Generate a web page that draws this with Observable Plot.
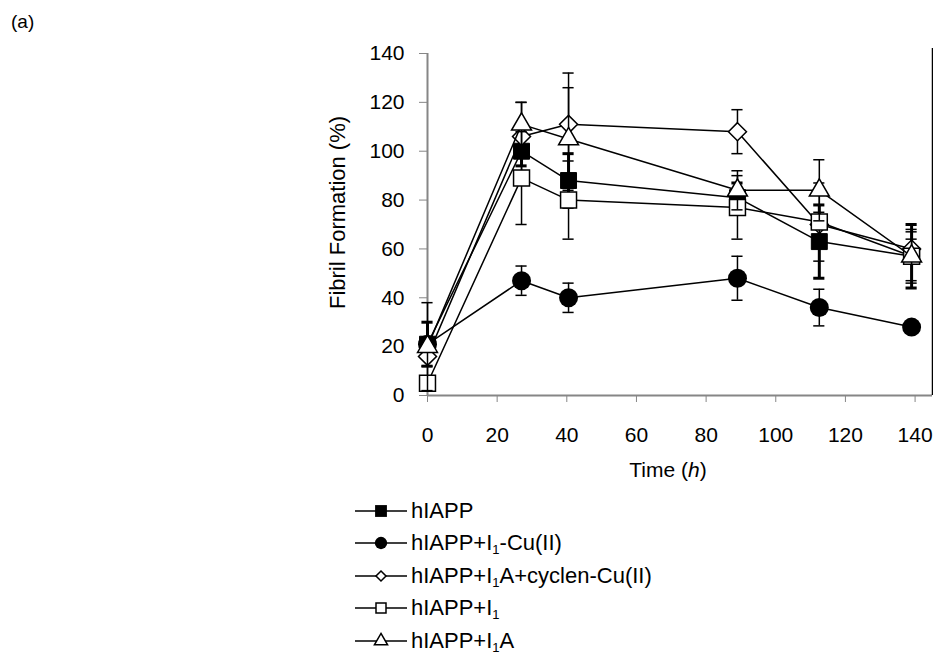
<!DOCTYPE html>
<html><head><meta charset="utf-8">
<script src="https://cdn.jsdelivr.net/npm/d3@7"></script>
<script src="https://cdn.jsdelivr.net/npm/@observablehq/plot@0.6"></script>
<style>
body{margin:0;background:#fff;font-family:"Liberation Sans",Arial,sans-serif;}
#wrap{position:relative;width:933px;height:657px;overflow:hidden;}
#chart{position:absolute;left:0;top:0;}
.abs{position:absolute;font-size:21px;color:#000;white-space:nowrap;line-height:1;}
.abs sub{font-size:13px;vertical-align:-4px;line-height:0;}
.lrow{position:absolute;left:352px;height:24px;}
.lrow svg{position:absolute;left:0;top:0;}
.lrow span{position:absolute;left:59px;top:1px;font-size:22px;white-space:nowrap;line-height:1;}
.lrow sub{font-size:13px;vertical-align:-4px;line-height:0;}
</style></head><body>
<div id="wrap">
<div id="chart"></div>
<div class="abs" style="left:11px;top:12px;font-size:19px">(a)</div>
<div class="abs" id="xtitle" style="left:668px;top:459px;transform:translateX(-50%)">Time (<i>h</i>)</div>
<div id="legend"></div>
</div>
<script>
// ---- data ----
const times = [0, 27, 40.5, 89, 112.5, 139];
const seriesNames = ["hIAPP", "hIAPP+I1-Cu(II)", "hIAPP+I1A+cyclen-Cu(II)", "hIAPP+I1", "hIAPP+I1A"];
const legendHtml = ["hIAPP", "hIAPP+I<sub>1</sub>-Cu(II)", "hIAPP+I<sub>1</sub>A+cyclen-Cu(II)", "hIAPP+I<sub>1</sub>", "hIAPP+I<sub>1</sub>A"];
const valHIAPP  = [21, 100, 88, 81, 63, 57];
const errHIAPP  = [9, 6, 11, 6, 15, 13];
const valCu     = [21, 47, 40, 48, 36, 28];
const errCu     = [3, 6, 6, 9, 7.5, 2];
const valCyclen = [16, 106, 111, 108, 70, 60];
const errCyclen = [4, 14, 21, 9, 5, 4];
const valI1     = [5, 89, 80, 77, 71, 57];
const errI1     = [3, 19, 16, 13, 16, 11];
const valI1A    = [20, 111, 105, 84, 84, 57];
const errI1A    = [18, 9, 21, 8, 12.5, 10];
const xTicks = [0, 20, 40, 60, 80, 100, 120, 140];
const yTicks = [0, 20, 40, 60, 80, 100, 120, 140];

const values = [valHIAPP, valCu, valCyclen, valI1, valI1A];
const errors = [errHIAPP, errCu, errCyclen, errI1, errI1A];

// ---- styles ----
const styles = [
  {symbol: "square",   r: 9.0, fill: "black", stroke: "black", sw: 1,   ew: 3,   lsym: d3.symbolSquare,   lsize: 140, lfill: "black"},
  {symbol: "circle",   r: 9.5, fill: "black", stroke: "none",  sw: 0,   ew: 1.5, lsym: d3.symbolCircle,   lsize: 120, lfill: "black"},
  {symbol: "diamond2", r: 8.1, fill: "white", stroke: "black", sw: 1.5, ew: 1.5, lsym: d3.symbolDiamond2, lsize: 64,  lfill: "white"},
  {symbol: "square",   r: 9.0, fill: "white", stroke: "black", sw: 1.5, ew: 1.5, lsym: d3.symbolSquare,   lsize: 100, lfill: "white"},
  {symbol: "triangle", r: 7.4, fill: "white", stroke: "black", sw: 1.5, ew: 1.5, lsym: d3.symbolTriangle, lsize: 75,  lfill: "white"}
];

const xMax = 145;
const capHalf = 1.6;
const marks = [
  Plot.ruleY([0], {x1: 0, x2: xMax, stroke: "#868686", strokeWidth: 2}),
  Plot.ruleX([0], {y1: 0, y2: 140, stroke: "#868686", strokeWidth: 2}),
  Plot.ruleX([xMax], {y1: 0, y2: 142, stroke: "black", strokeWidth: 1.5}),
  Plot.axisX({ticks: xTicks, tickFormat: d => d, tickSize: 7, tickPadding: 25, stroke: "#868686", fill: "black", fontSize: 21, label: null}),
  Plot.axisY({ticks: yTicks, tickFormat: d => d, tickSize: 8, tickPadding: 15, stroke: "#868686", fill: "black", fontSize: 21, label: null}),
  Plot.text(["Fibril Formation (%)"], {frameAnchor: "left", textAnchor: "middle", dx: -90, dy: -12, rotate: -90, fontSize: 22, fill: "black"})
];

seriesNames.forEach((name, s) => {
  const st = styles[s];
  const rows = times.map((t, i) => ({series: name, t, v: values[s][i], e: errors[s][i]}));
  marks.push(
    Plot.ruleX(rows, {x: "t", y1: d => d.v - d.e, y2: d => d.v + d.e, stroke: "black", strokeWidth: st.ew}),
    Plot.ruleY(rows, {y: d => d.v + d.e, x1: d => d.t - capHalf, x2: d => d.t + capHalf, stroke: "black", strokeWidth: st.ew}),
    Plot.ruleY(rows, {y: d => d.v - d.e, x1: d => d.t - capHalf, x2: d => d.t + capHalf, stroke: "black", strokeWidth: st.ew}),
    Plot.line(rows, {x: "t", y: "v", stroke: "black", strokeWidth: 1.5}),
    Plot.dot(rows, {x: "t", y: "v", symbol: () => st.symbol, r: st.r, fill: st.fill, stroke: st.stroke, strokeWidth: st.sw})
  );
});

const chart = Plot.plot({
  width: 933, height: 460,
  marginLeft: 427, marginRight: 1, marginTop: 53, marginBottom: 65,
  x: {domain: [0, xMax]},
  y: {domain: [0, 140]},
  symbol: {type: "identity"},
  style: {fontFamily: "Liberation Sans, Arial, sans-serif", fontSize: "21px", background: "transparent", overflow: "visible", color: "black"},
  marks
});
document.getElementById("chart").appendChild(chart);

// ---- legend ----
const legendY = [511, 543, 576, 608, 641];
const leg = document.getElementById("legend");
seriesNames.forEach((name, s) => {
  const st = styles[s];
  const row = document.createElement("div");
  row.className = "lrow";
  row.style.top = (legendY[s] - 12) + "px";
  const path = d3.symbol(st.lsym, st.lsize)();
  row.innerHTML = `<svg width="58" height="24"><line x1="3" x2="55" y1="12" y2="12" stroke="black" stroke-width="1.5"/>` +
    `<path d="${path}" transform="translate(29,12)" fill="${st.lfill}" stroke="black" stroke-width="${st.lfill === 'white' ? 1.5 : 0}"/></svg>` +
    `<span>${legendHtml[s]}</span>`;
  leg.appendChild(row);
});
</script>
</body></html>
